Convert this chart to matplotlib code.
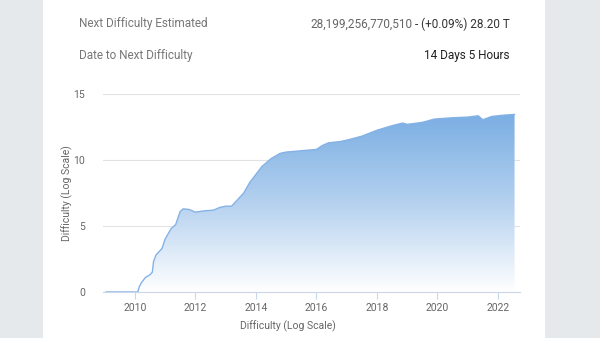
import matplotlib
matplotlib.use("Agg")
import matplotlib.pyplot as plt
import numpy as np
from matplotlib.patches import Rectangle
from matplotlib.colors import LinearSegmentedColormap

plt.rcParams['font.family'] = ['Roboto', 'DejaVu Sans']

years = [2009.05, 2010.1, 2010.15, 2010.22, 2010.35, 2010.5, 2010.58, 2010.62, 2010.7, 2010.9,
         2011.0, 2011.2, 2011.35, 2011.5, 2011.6, 2011.8, 2012.0, 2012.3, 2012.6, 2012.8,
         2013.0, 2013.2, 2013.4, 2013.6, 2013.8, 2014.0, 2014.2, 2014.5, 2014.8, 2015.0,
         2015.5, 2016.0, 2016.2, 2016.4, 2016.8, 2017.0, 2017.5, 2018.0, 2018.5, 2018.85,
         2019.0, 2019.5, 2019.9, 2020.5, 2021.0, 2021.35, 2021.5, 2021.8, 2022.2, 2022.55]
values = [0.0, 0.0, 0.4, 0.7, 1.1, 1.3, 1.5, 2.3, 2.8, 3.3,
          4.0, 4.8, 5.1, 6.1, 6.3, 6.25, 6.05, 6.15, 6.2, 6.4,
          6.5, 6.5, 7.0, 7.5, 8.3, 8.9, 9.5, 10.1, 10.5, 10.6,
          10.7, 10.8, 11.1, 11.3, 11.4, 11.5, 11.8, 12.25, 12.6, 12.8,
          12.7, 12.85, 13.1, 13.2, 13.25, 13.35, 13.05, 13.3, 13.4, 13.45]
x_ticks = [2010, 2012, 2014, 2016, 2018, 2020, 2022]
y_ticks = [0, 5, 10, 15]

W, H = 600, 338
fig = plt.figure(figsize=(6, 3.38), dpi=100)
fig.patch.set_facecolor('#e6e9ec')
fig.add_artist(Rectangle((43/W, 0), (545-43)/W, 1, transform=fig.transFigure,
                         facecolor='white', edgecolor='none', zorder=0))

ax = fig.add_axes([103/W, 46/H, (520-103)/W, 198/H])
ax.set_facecolor('none')
ax.set_xlim(2008.95, 2022.73)
ax.set_ylim(0, 15)

poly = ax.fill_between(years, values, 0, color='none', lw=0)
grad = np.linspace(0, 1, 256).reshape(-1, 1)
cmap = LinearSegmentedColormap.from_list('g', ['#ffffff', '#b5d1ef', '#7aaee3'])
top = max(values)
im = ax.imshow(grad, extent=[years[0], years[-1], 0, top], origin='lower', aspect='auto',
               cmap=cmap, zorder=1)
im.set_clip_path(poly.get_paths()[0], transform=ax.transData)
ax.plot(years, values, color='#85b2e6', lw=1.0, zorder=2)

ax.set_yticks(y_ticks)
ax.set_xticks(x_ticks)
ax.grid(axis='y', color='#e2e2e2', lw=0.8, zorder=0)
ax.set_axisbelow(True)
for s in ['top', 'right', 'left']:
    ax.spines[s].set_visible(False)
ax.spines['bottom'].set_color('#ccd6eb')
ax.tick_params(axis='x', colors='#ccd6eb', length=5, width=0.8, labelcolor='#666666', labelsize=7.5, pad=3)
ax.tick_params(axis='y', length=0, labelcolor='#666666', labelsize=7.5, pad=13)

fig.text(288/W, 1 - 326/H, 'Difficulty (Log Scale)', color='#666666', fontsize=7.5, va='center', ha='center')
fig.text(67/W, 1 - 193/H, 'Difficulty (Log Scale)', color='#666666', fontsize=7.5, va='center', ha='center',
         rotation=90)

fs = 8.5
fig.text(79/W, 1 - 24/H, 'Next Difficulty Estimated', color='#777777', fontsize=fs, va='center', ha='left')
fig.text(79/W, 1 - 55/H, 'Date to Next Difficulty', color='#777777', fontsize=fs, va='center', ha='left')
t2 = fig.text(510/W, 1 - 24/H, '- (+0.09%) 28.20 T', color='#333333', fontsize=fs, va='center', ha='right')
fig.canvas.draw()
bb = t2.get_window_extent(renderer=fig.canvas.get_renderer())
fig.text((bb.x0 - 3) / W, 1 - 24/H, '28,199,256,770,510', color='#666666', fontsize=fs, va='center', ha='right')
fig.text(510/W, 1 - 55/H, '14 Days 5 Hours', color='#222222', fontsize=fs, va='center', ha='right')

fig.savefig('out.png', dpi=100, facecolor=fig.get_facecolor())
